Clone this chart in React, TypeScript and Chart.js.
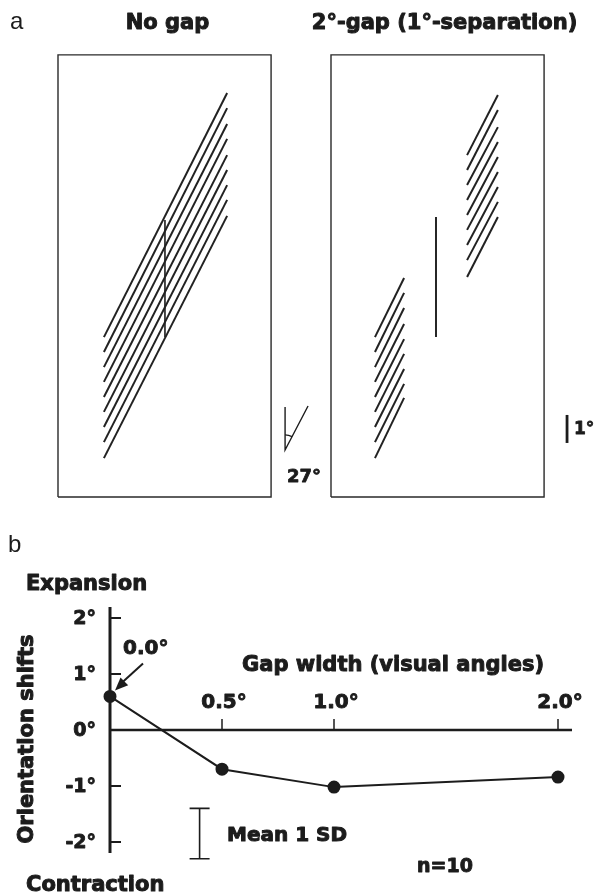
import React, { useEffect, useRef } from "react";
import { Chart, registerables } from "chart.js";

Chart.register(...registerables);

// ---------- Panel b data ----------
const gapWidths = [0, 0.5, 1.0, 2.0];
const orientationShifts = [0.6, -0.7, -1.02, -0.84];
const xTickValues = [0.5, 1.0, 2.0];
const xTickLabels = ["0.5°", "1.0°", "2.0°"];
const yTickValues = [2, 1, 0, -1, -2];
const yTickLabels = ["2°", "1°", "0°", "-1°", "-2°"];
const sdBarX = 0.4;
const sdBarSpan = [-1.4, -2.3];

// ---------- Panel a stimulus (degrees of visual angle, from each frame's lower-left corner) ----------
const frameSize = [7.61, 15.79];
const frameOffsets = [0, 9.75];
const noGapX = [1.64, 6.04];
const noGapYLow = [5.71, 5.18, 4.64, 4.11, 3.57, 3.04, 2.5, 1.96, 1.39];
const noGapYHigh = [14.43, 13.89, 13.32, 12.79, 12.21, 11.68, 11.14, 10.61, 10.04];
const noGapVertical = [3.82, 5.71, 9.89];
const gapLowerX = [1.57, 2.61];
const gapLowerYLow = [5.71, 5.18, 4.64, 4.11, 3.57, 3.04, 2.5, 1.96, 1.39];
const gapLowerYHigh = [7.82, 7.29, 6.75, 6.18, 5.64, 5.11, 4.57, 4.04, 3.54];
const gapUpperX = [4.86, 5.96];
const gapUpperYLow = [12.21, 11.68, 11.14, 10.61, 10.07, 9.54, 9.0, 8.46, 7.86];
const gapUpperYHigh = [14.36, 13.82, 13.21, 12.68, 12.14, 11.61, 11.07, 10.54, 10.0];
const gapVertical = [3.75, 5.71, 10.0];
const angleVertical = [8.11, 1.68, 3.21];
const angleSlant = [8.11, 1.68, 8.93, 3.25];
const scaleBar = [18.18, 1.93, 2.93];

const INK = "#1c1c1c";
const heavy = (size: number) => `bold ${size}px 'DejaVu Sans', sans-serif`;

type P = { x: number; y: number };

function lineDs(pts: P[], width: number, color = INK) {
  return {
    data: pts,
    showLine: true,
    borderColor: color,
    borderWidth: width,
    pointRadius: 0,
    clip: false as any,
    borderCapStyle: "butt" as const,
  };
}

function gratingDatasets(xs: number[], yl: number[], yh: number[], off: number) {
  return yl.map((y0, i) =>
    lineDs(
      [
        { x: off + xs[0], y: y0 },
        { x: off + xs[1], y: yh[i] },
      ],
      2,
      "#222"
    )
  );
}

function frameDataset(off: number) {
  const [w, h] = frameSize;
  return lineDs(
    [
      { x: off, y: 0 },
      { x: off + w, y: 0 },
      { x: off + w, y: h },
      { x: off, y: h },
      { x: off, y: 0 },
    ],
    1.4,
    "#2a2a2a"
  );
}

function text(
  ctx: CanvasRenderingContext2D,
  s: string,
  x: number,
  y: number,
  font: string,
  align: CanvasTextAlign = "left",
  stroke = 0
) {
  ctx.font = font;
  ctx.textAlign = align;
  ctx.textBaseline = "middle";
  ctx.fillStyle = INK;
  ctx.fillText(s, x, y);
  if (stroke > 0) {
    ctx.strokeStyle = INK;
    ctx.lineWidth = stroke;
    ctx.lineJoin = "round";
    ctx.strokeText(s, x, y);
  }
}

const stimulusPlugin = {
  id: "stimulusText",
  afterDatasetsDraw(chart: any) {
    const { ctx, scales } = chart;
    const xs = scales.x;
    const ys = scales.y;
    ctx.save();
    text(ctx, "a", 10, 22, "24px 'Liberation Sans', Arial, sans-serif");
    const c0 = xs.getPixelForValue(frameOffsets[0] + frameSize[0] / 2);
    const c1 = xs.getPixelForValue(frameOffsets[1] + frameSize[0] / 2);
    text(ctx, "No gap", c0 + 3, 24, heavy(21), "center", 1);
    text(ctx, "2°-gap (1°-separation)", c1 + 7, 24, heavy(21), "center", 1);
    // angle arc
    const vx = xs.getPixelForValue(angleSlant[0]);
    const vy = ys.getPixelForValue(angleSlant[1]);
    const ex = xs.getPixelForValue(angleSlant[2]);
    const ey = ys.getPixelForValue(angleSlant[3]);
    ctx.beginPath();
    ctx.strokeStyle = INK;
    ctx.lineWidth = 1.3;
    ctx.arc(vx, vy, 15, -Math.PI / 2, Math.atan2(ey - vy, ex - vx));
    ctx.stroke();
    text(ctx, "27°", vx + 19, vy + 27, heavy(18), "center", 0.8);
    const sbx = xs.getPixelForValue(scaleBar[0]);
    const sby = (ys.getPixelForValue(scaleBar[1]) + ys.getPixelForValue(scaleBar[2])) / 2;
    text(ctx, "1°", sbx + 7, sby + 1, heavy(17), "left", 0.8);
    ctx.restore();
  },
};

const panelBPlugin = {
  id: "panelBAxes",
  beforeDatasetsDraw(chart: any) {
    const { ctx, scales, chartArea } = chart;
    const xs = scales.x;
    const ys = scales.y;
    const x0 = xs.getPixelForValue(0);
    const y0 = ys.getPixelForValue(0);
    ctx.save();
    ctx.strokeStyle = INK;
    ctx.lineCap = "butt";
    // y axis
    ctx.lineWidth = 3;
    ctx.beginPath();
    ctx.moveTo(x0, chartArea.top);
    ctx.lineTo(x0, chartArea.bottom);
    ctx.stroke();
    // x axis
    ctx.lineWidth = 2.6;
    ctx.beginPath();
    ctx.moveTo(x0, y0);
    ctx.lineTo(chartArea.right, y0);
    ctx.stroke();
    // y ticks (inside)
    yTickValues.forEach((v, i) => {
      const py = ys.getPixelForValue(v);
      if (v !== 0) {
        ctx.strokeStyle = INK;
        ctx.lineWidth = 2;
        ctx.beginPath();
        ctx.moveTo(x0, py);
        ctx.lineTo(x0 + 11, py);
        ctx.stroke();
      }
      text(ctx, yTickLabels[i], x0 - 14, py + 1, heavy(19), "right", 0.9);
    });
    // x ticks (upward)
    xTickValues.forEach((v, i) => {
      const px = xs.getPixelForValue(v);
      ctx.strokeStyle = INK;
      ctx.lineWidth = 1.5;
      ctx.beginPath();
      ctx.moveTo(px, y0);
      ctx.lineTo(px, y0 - 11);
      ctx.stroke();
      text(ctx, xTickLabels[i], px + 2, y0 - 27, heavy(20), "center", 0.9);
    });
    ctx.restore();
  },
  afterDatasetsDraw(chart: any) {
    const { ctx, scales } = chart;
    const xs = scales.x;
    const ys = scales.y;
    const px0 = xs.getPixelForValue(gapWidths[0]);
    const py0 = ys.getPixelForValue(orientationShifts[0]);
    ctx.save();
    text(ctx, "b", 8, 20, "24px 'Liberation Sans', Arial, sans-serif");
    text(ctx, "Expansion", 26, 60, heavy(21), "left", 1);
    text(ctx, "Contraction", 26, 361, heavy(21), "left", 1);
    text(ctx, "0.0°", 123, 124, heavy(20), "left", 0.9);
    text(ctx, "Gap width (visual angles)", 393, 141, heavy(21), "center", 1);
    text(ctx, "Mean 1 SD", 227, 311, heavy(20), "left", 1);
    text(ctx, "n=10", 417, 342, heavy(19), "left", 0.9);
    // rotated y title
    ctx.save();
    ctx.translate(28, 214);
    ctx.rotate(-Math.PI / 2);
    text(ctx, "Orientation shifts", 0, 0, heavy(21), "center", 1);
    ctx.restore();
    // arrow from 0.0° label to first point
    const sx = px0 + 33;
    const sy = py0 - 33;
    const tx = px0 + 5;
    const ty = py0 - 6;
    ctx.strokeStyle = INK;
    ctx.fillStyle = INK;
    ctx.lineWidth = 2;
    ctx.beginPath();
    ctx.moveTo(sx, sy);
    ctx.lineTo(tx + 6, ty - 7);
    ctx.stroke();
    const ang = Math.atan2(ty - sy, tx - sx);
    const L = 13;
    const W = 5.5;
    ctx.beginPath();
    ctx.moveTo(tx, ty);
    ctx.lineTo(tx - L * Math.cos(ang) + W * Math.sin(ang), ty - L * Math.sin(ang) - W * Math.cos(ang));
    ctx.lineTo(tx - L * Math.cos(ang) - W * Math.sin(ang), ty - L * Math.sin(ang) + W * Math.cos(ang));
    ctx.closePath();
    ctx.fill();
    // SD bar
    const bx = xs.getPixelForValue(sdBarX);
    const bt = ys.getPixelForValue(sdBarSpan[0]);
    const bb = ys.getPixelForValue(sdBarSpan[1]);
    ctx.lineWidth = 1.6;
    ctx.beginPath();
    ctx.moveTo(bx, bt);
    ctx.lineTo(bx, bb);
    ctx.moveTo(bx - 10, bt);
    ctx.lineTo(bx + 10, bt);
    ctx.moveTo(bx - 10, bb);
    ctx.lineTo(bx + 10, bb);
    ctx.stroke();
    ctx.restore();
  },
};

export default function App() {
  const refA = useRef<HTMLCanvasElement>(null);
  const refB = useRef<HTMLCanvasElement>(null);

  useEffect(() => {
    const datasetsA: any[] = [
      frameDataset(frameOffsets[0]),
      frameDataset(frameOffsets[1]),
      ...gratingDatasets(noGapX, noGapYLow, noGapYHigh, frameOffsets[0]),
      ...gratingDatasets(gapLowerX, gapLowerYLow, gapLowerYHigh, frameOffsets[1]),
      ...gratingDatasets(gapUpperX, gapUpperYLow, gapUpperYHigh, frameOffsets[1]),
      lineDs(
        [
          { x: frameOffsets[0] + noGapVertical[0], y: noGapVertical[1] },
          { x: frameOffsets[0] + noGapVertical[0], y: noGapVertical[2] },
        ],
        1.6
      ),
      lineDs(
        [
          { x: frameOffsets[1] + gapVertical[0], y: gapVertical[1] },
          { x: frameOffsets[1] + gapVertical[0], y: gapVertical[2] },
        ],
        1.9
      ),
      lineDs(
        [
          { x: angleVertical[0], y: angleVertical[2] },
          { x: angleVertical[0], y: angleVertical[1] },
          { x: angleSlant[2], y: angleSlant[3] },
        ],
        1.4
      ),
      lineDs(
        [
          { x: scaleBar[0], y: scaleBar[1] },
          { x: scaleBar[0], y: scaleBar[2] },
        ],
        2.8
      ),
    ];
    const chartA = new Chart(refA.current!, {
      type: "scatter",
      data: { datasets: datasetsA },
      options: {
        animation: false,
        responsive: false,
        maintainAspectRatio: false,
        layout: { padding: 0 },
        plugins: { legend: { display: false }, tooltip: { enabled: false } },
        scales: {
          x: { type: "linear", display: false, min: -58 / 28, max: (597 - 58) / 28 },
          y: { type: "linear", display: false, min: (497 - 525) / 28, max: 497 / 28 },
        },
      },
      plugins: [stimulusPlugin],
    });

    const chartB = new Chart(refB.current!, {
      type: "scatter",
      data: {
        datasets: [
          {
            data: gapWidths.map((g, i) => ({ x: g, y: orientationShifts[i] })),
            showLine: true,
            borderColor: INK,
            borderWidth: 2,
            pointRadius: 5.5,
            pointBackgroundColor: INK,
            pointBorderColor: INK,
            clip: false as any,
          },
        ],
      },
      options: {
        animation: false,
        responsive: false,
        maintainAspectRatio: false,
        layout: { padding: { left: 110, right: 25, top: 82, bottom: 42 } },
        plugins: { legend: { display: false }, tooltip: { enabled: false } },
        scales: {
          x: { type: "linear", display: false, min: 0, max: 2.0625 },
          y: { type: "linear", display: false, min: -246 / 112, max: 246 / 112 },
        },
      },
      plugins: [panelBPlugin],
    });

    return () => {
      chartA.destroy();
      chartB.destroy();
    };
  }, []);

  return (
    <div
      style={{
        position: "fixed",
        left: 0,
        top: 0,
        width: 597,
        height: 895,
        background: "#fff",
        overflow: "hidden",
      }}
    >
      <canvas
        ref={refA}
        width={597}
        height={525}
        style={{ position: "absolute", left: 0, top: 0, width: 597, height: 525 }}
      />
      <canvas
        ref={refB}
        width={597}
        height={370}
        style={{ position: "absolute", left: 0, top: 525, width: 597, height: 370 }}
      />
    </div>
  );
}
